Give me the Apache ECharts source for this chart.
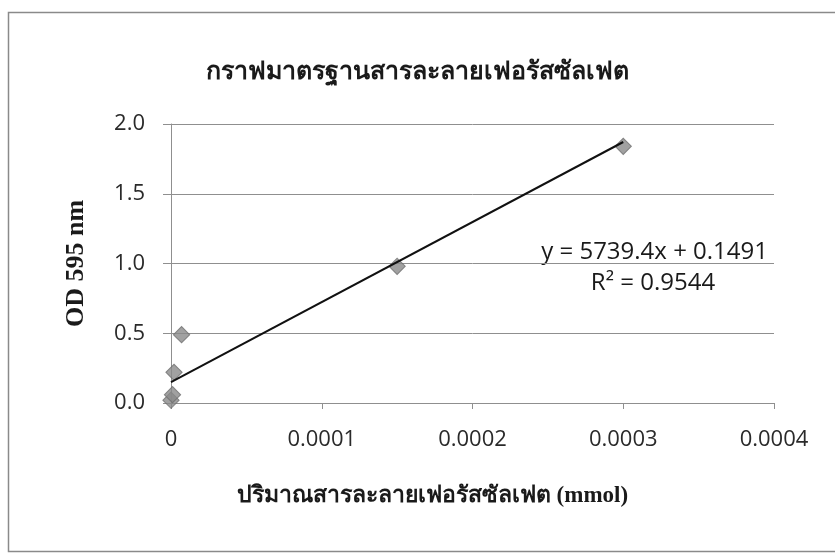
<!DOCTYPE html>
<html>
<head>
<meta charset="utf-8">
<script src="https://cdn.jsdelivr.net/npm/echarts@6/dist/echarts.min.js"></script>
<style>html,body{margin:0;padding:0;background:#fff}#c{width:835px;height:554px}</style>
</head>
<body>
<div id="c"></div>
<script>
// Data
var xValues = [0, 0.000001, 0.000002, 0.000007, 0.00015, 0.0003];
var yValues = [0.02, 0.06, 0.22, 0.49, 0.98, 1.84];
var trendSlope = 5739.4;
var trendIntercept = 0.1491;
var trendRange = [0, 0.0003];
var xTicks = ['0', '0.0001', '0.0002', '0.0003', '0.0004'];
var yTicks = ['0.0', '0.5', '1.0', '1.5', '2.0'];
var titleText = 'กราฟมาตรฐานสารละลายเฟอรัสซัลเฟต';
var xName = 'ปริมาณสารละลายเฟอรัสซัลเฟต (mmol)';
var yName = 'OD 595 nm';
var eqText = 'y = 5739.4x + 0.1491';
var r2Text = 'R² = 0.9544';

var points = xValues.map(function (x, i) { return [x, yValues[i]]; });
var trend = trendRange.map(function (x) { return [x, trendSlope * x + trendIntercept]; });

var chart = echarts.init(document.getElementById('c'), null, {renderer: 'canvas'});
var gridColor = '#8f8f8f';
var tickFont = "'Open Sans', 'Liberation Sans', sans-serif";
var serifFont = "'Liberation Serif', 'DejaVu Serif', serif";

chart.setOption({
  animation: false,
  backgroundColor: '#ffffff',
  title: {
    text: titleText,
    left: 'center',
    top: 55,
    textStyle: {fontFamily: serifFont, fontWeight: 'bold', fontSize: 25, color: '#1a1a1a'}
  },
  grid: {left: 171, right: 61, top: 124, bottom: 151},
  xAxis: {
    type: 'value', min: 0, max: 0.0004, interval: 0.0001,
    axisLine: {show: true, lineStyle: {color: gridColor, width: 1}},
    axisTick: {show: true, length: 6, lineStyle: {color: gridColor}},
    splitLine: {show: false},
    axisLabel: {
      margin: 26, fontFamily: tickFont, fontSize: 22, color: '#2a2a2a',
      formatter: function (v) { return xTicks[Math.round(v / 0.0001)]; }
    },
    name: xName, nameLocation: 'middle', nameGap: 82,
    nameTextStyle: {fontFamily: serifFont, fontWeight: 'bold', fontSize: 23, color: '#1a1a1a', padding: [0, 80, 0, 0]}
  },
  yAxis: {
    type: 'value', min: 0, max: 2, interval: 0.5,
    axisLine: {show: true, lineStyle: {color: gridColor, width: 1}},
    axisTick: {show: true, length: 8, lineStyle: {color: gridColor}},
    splitLine: {show: true, lineStyle: {color: gridColor, width: 1}},
    axisLabel: {
      margin: 26, fontFamily: tickFont, fontSize: 22, color: '#2a2a2a',
      formatter: function (v) { return yTicks[Math.round(v / 0.5)]; }
    },
    name: yName, nameLocation: 'middle', nameGap: 82, nameRotate: 90,
    nameTextStyle: {fontFamily: serifFont, fontWeight: 'bold', fontSize: 26, color: '#1a1a1a'}
  },
  series: [
    {
      type: 'line', data: trend, showSymbol: false, symbol: 'none',
      lineStyle: {color: '#111', width: 2}, z: 3, silent: true
    },
    {
      type: 'scatter', data: points, symbol: 'rect', symbolRotate: 45, symbolSize: 11.5,
      itemStyle: {color: '#8a8a8a', borderColor: '#6f6f6f', borderWidth: 1}, z: 2
    }
  ],
  graphic: [
    {type: 'rect', shape: {x: 8.5, y: 12.5, width: 840, height: 539},
     style: {fill: 'none', stroke: '#8a8a8a', lineWidth: 1.5}, silent: true},
    {type: 'text', x: 768, y: 252,
     style: {text: eqText, fontFamily: tickFont, fontSize: 24, fill: '#1a1a1a', align: 'right', verticalAlign: 'middle'}},
    {type: 'text', x: 653, y: 283,
     style: {text: r2Text, fontFamily: tickFont, fontSize: 24, fill: '#1a1a1a', align: 'center', verticalAlign: 'middle'}}
  ]
});
</script>
</body>
</html>
